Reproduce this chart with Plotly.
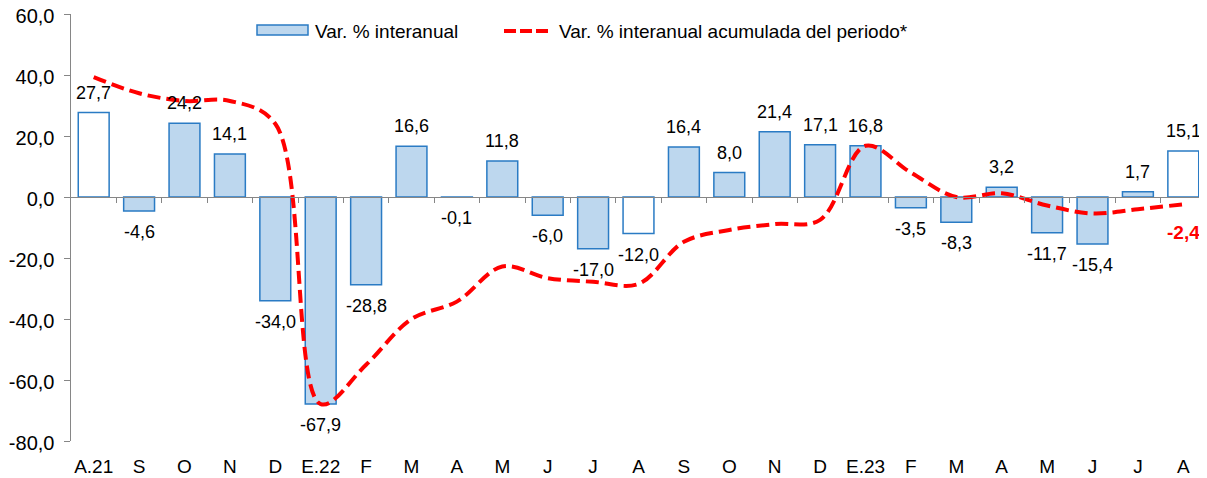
import plotly.graph_objects as go

# ---- data ----
categories = ["A.21", "S", "O", "N", "D", "E.22", "F", "M", "A", "M", "J", "J", "A",
              "S", "O", "N", "D", "E.23", "F", "M", "A", "M", "J", "J", "A"]
var_interanual = [27.7, -4.6, 24.2, 14.1, -34.0, -67.9, -28.8, 16.6, -0.1, 11.8, -6.0, -17.0, -12.0,
                  16.4, 8.0, 21.4, 17.1, 16.8, -3.5, -8.3, 3.2, -11.7, -15.4, 1.7, 15.1]
var_acumulada = [39.3, 34.0, 31.5, 31.5, 24.0, -67.9, -55.0, -40.0, -34.3, -22.8, -26.6, -27.8, -28.5,
                 -14.7, -10.8, -8.9, -7.5, 16.8, 8.0, 0.0, 1.2, -2.8, -5.4, -4.0, -2.4]
y_ticks = [-80, -60, -40, -20, 0, 20, 40, 60]
series_names = ["Var. % interanual", "Var. % interanual acumulada del periodo*"]

def fmt(v):
    return f"{v:.1f}".replace(".", ",")

OFF = 8  # page body margin
W, H = 1199, 470
ML, MR, MT, MB = 63, 1, 6, 37
FONT = "Liberation Sans, Arial, sans-serif"
BAR_FILL = "#BDD7EE"
BAR_LINE = "#2A7BC4"
AXIS = "#868686"
RED = "#FF0000"

xs = list(range(len(categories)))
fills = ["#FFFFFF" if i % 12 == 0 else BAR_FILL for i in xs]

fig = go.Figure()
fig.add_trace(go.Bar(
    x=xs, y=var_interanual, name=series_names[0],
    marker=dict(color=fills, line=dict(color=BAR_LINE, width=1.5)),
    width=0.68, showlegend=False, hoverinfo="skip",
))
fig.add_trace(go.Scatter(
    x=xs, y=var_acumulada, name=series_names[1], mode="lines",
    line=dict(color=RED, width=4, dash="13px,6px", shape="spline", smoothing=1.0),
    showlegend=False, hoverinfo="skip",
))
# invisible trace so the zero-level axis is drawn
fig.add_trace(go.Scatter(x=[0], y=[0], xaxis="x2", mode="markers",
                         marker=dict(opacity=0), showlegend=False, hoverinfo="skip"))

annotations = []
for i, v in zip(xs, var_interanual):
    annotations.append(dict(x=i, y=v, text=fmt(v), showarrow=False,
                            yshift=20 if v >= 0 else -21, yanchor="middle",
                            font=dict(family=FONT, size=18, color="black")))
annotations.append(dict(x=xs[-1], y=var_acumulada[-1], text="<b>" + fmt(var_acumulada[-1]) + "</b>",
                        showarrow=False, yshift=-28, yanchor="middle",
                        font=dict(family=FONT, size=19, color=RED)))

# custom legend (page pixel -> paper)
pw, ph = W - ML - MR, H - MT - MB
def px(x):
    return (x - OFF - ML) / pw
def py(y):
    return (H - MB - (y - OFF)) / ph

shapes = [
    dict(type="rect", xref="paper", yref="paper", x0=px(257), x1=px(308), y0=py(35), y1=py(25),
         fillcolor=BAR_FILL, line=dict(color=BAR_LINE, width=1.5)),
    dict(type="line", xref="paper", yref="paper", x0=px(504), x1=px(548), y0=py(31), y1=py(31),
         line=dict(color=RED, width=4, dash="12px,4px")),
]
annotations.append(dict(xref="paper", yref="paper", x=px(313), y=py(31), xanchor="left", yanchor="middle",
                        text=series_names[0], showarrow=False,
                        font=dict(family=FONT, size=19, color="black")))
annotations.append(dict(xref="paper", yref="paper", x=px(557), y=py(31), xanchor="left", yanchor="middle",
                        text=series_names[1], showarrow=False,
                        font=dict(family=FONT, size=19, color="black")))

ymin, ymax = y_ticks[0], y_ticks[-1]
fig.update_layout(
    width=W, height=H,
    margin=dict(l=ML, r=MR, t=MT, b=MB, pad=0, autoexpand=False),
    paper_bgcolor="white", plot_bgcolor="white",
    font=dict(family=FONT, size=19, color="black"),
    bargap=0.32,
    xaxis=dict(range=[-0.5, len(categories) - 0.5], tickvals=xs, ticktext=categories,
               showline=False, showgrid=False, zeroline=False, ticks="", ticklabelstandoff=12,
               ticklabeloverflow="allow", automargin=False,
               tickfont=dict(family=FONT, size=19, color="black")),
    xaxis2=dict(overlaying="x", anchor="free", position=(0 - ymin) / (ymax - ymin),
                range=[-0.5, len(categories) - 0.5], automargin=False,
                tickvals=[i + 0.5 for i in xs[:-1]], showticklabels=False,
                ticks="outside", ticklen=5, tickcolor=AXIS, tickwidth=1,
                showline=True, linecolor=AXIS, linewidth=1, showgrid=False, zeroline=False),
    yaxis=dict(range=[ymin, ymax], tickvals=y_ticks,
               ticktext=[fmt(v) + "\u00a0" for v in y_ticks],
               showline=True, linecolor=AXIS, linewidth=1, ticks="outside", ticklen=6,
               tickcolor=AXIS, showgrid=False, zeroline=False, ticklabeloverflow="allow",
               automargin=False, ticklabelshift=2,
               tickfont=dict(family=FONT, size=20, color="black")),
    shapes=shapes, annotations=annotations,
)

fig.write_html("out.html")
